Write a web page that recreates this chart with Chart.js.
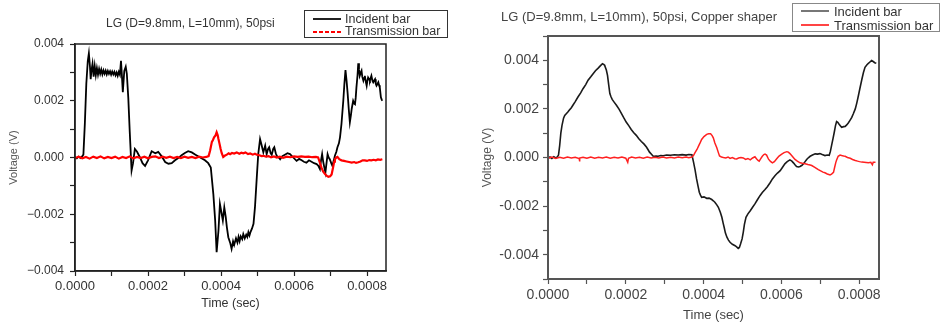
<!DOCTYPE html>
<html>
<head>
<meta charset="utf-8">
<script src="https://cdn.jsdelivr.net/npm/chart.js@4.4.1/dist/chart.umd.min.js"></script>
<style>
  body { margin: 0; background: #fff; width: 941px; height: 326px; overflow: hidden; position: relative;
         font-family: "Liberation Sans", Arial, sans-serif; }
  .panel { position: absolute; top: 0; }
  .ttl { position: absolute; white-space: nowrap; line-height: 1; }
  .lgd { position: absolute; box-sizing: border-box; background: #fff; }
  .lgd .txt { position: absolute; white-space: nowrap; line-height: 1; }
  .lgd .smp { position: absolute; height: 2px; }
</style>
</head>
<body>

<div class="panel" style="left:0;width:470px;height:326px;"><canvas id="leftChart" width="470" height="326"></canvas></div>
<div class="panel" style="left:470px;width:471px;height:326px;"><canvas id="rightChart" width="471" height="326"></canvas></div>

<div class="ttl" style="left:106px;top:17px;font-size:12px;color:#333;">LG (D=9.8mm, L=10mm), 50psi</div>
<div class="lgd" style="left:304px;top:10px;width:144px;height:28px;border:1.5px solid #333;">
  <div class="smp" style="left:8px;top:7px;width:28px;background:#222;"></div>
  <div class="txt" style="left:40px;top:2px;font-size:12.5px;color:#333;">Incident bar</div>
  <div class="smp" style="left:8px;top:20px;width:28px;background:repeating-linear-gradient(90deg,#f00 0 4px,transparent 4px 6px);"></div>
  <div class="txt" style="left:40px;top:14px;font-size:12.5px;color:#333;">Transmission bar</div>
</div>

<div class="ttl" style="left:501px;top:10px;font-size:13px;color:#444;">LG (D=9.8mm, L=10mm), 50psi, Copper shaper</div>
<div class="lgd" style="left:792px;top:3px;width:148px;height:29px;border:1.5px solid #888;">
  <div class="smp" style="left:8px;top:6px;width:28px;background:#777;"></div>
  <div class="txt" style="left:41px;top:1px;font-size:13px;color:#333;">Incident bar</div>
  <div class="smp" style="left:8px;top:20px;width:28px;background:#f44;"></div>
  <div class="txt" style="left:41px;top:15px;font-size:13px;color:#333;">Transmission bar</div>
</div>

<script>
// time in microseconds, voltage in millivolts

const xTicks = [0, 100, 200, 300, 400, 500, 600, 700, 800];
const xTickLabels = ['0.0000', '', '0.0002', '', '0.0004', '', '0.0006', '', '0.0008'];

const leftYTicks = [-4, -3, -2, -1, 0, 1, 2, 3, 4];
const leftYTickLabels = ['\u22120.004', '', '\u22120.002', '', '0.000', '', '0.002', '', '0.004'];

const rightYTicks = [-5, -4, -3, -2, -1, 0, 1, 2, 3, 4, 5];
const rightYTickLabels = ['', '-0.004', '', '-0.002', '', '0.000', '', '0.002', '', '0.004', ''];

// left plot: no pulse shaper
const leftIncident = [
  [0,0.02],[5,-0.03],[10,0.03],[15,-0.02],[20,0.05],[23,0.1],[27,1.2],[31,2.6],[35,3.4],[38,3.67],
  [41,3.2],[43,2.76],[45,3.05],[48,3.3],[51,2.85],[54,3.22],[57,2.9],[60,3.15],[63,2.92],[66,3.12],
  [69,2.95],[72,3.1],[75,2.93],[78,3.07],[81,2.95],[84,3.06],[87,2.93],[90,3.05],[93,2.95],[96,3.04],
  [99,2.92],[102,3.03],[105,2.93],[108,3.02],[111,2.9],[114,3.0],[117,2.88],[120,3.02],[123,2.92],[126,3.41],
  [128,3.0],[131,2.3],[135,3.05],[139,3.2],[142,2.95],[146,2.1],[150,0.9],[155,-0.46],[159,-0.2],[164,0.3],
  [170,0.2],[178,0.0],[185,-0.2],[192,-0.3],[200,-0.1],[210,0.22],[220,0.15],[228,0.2],[237,0.05],[247,-0.16],
  [256,-0.22],[265,-0.2],[274,-0.1],[283,-0.02],[292,0.08],[301,0.16],[310,0.22],[320,0.18],[330,0.1],[343,0.0],
  [356,-0.1],[365,-0.2],[372,-0.35],[379,-1.29],[384,-2.22],[388,-3.34],[393,-2.58],[397,-1.64],[402,-2.0],[405,-2.22],
  [409,-1.76],[413,-2.1],[416,-2.45],[420,-2.81],[425,-3.0],[429,-3.22],[433,-2.95],[436,-3.08],[441,-2.85],[445,-3.0],
  [448,-2.8],[451,-2.95],[454,-2.78],[458,-2.88],[461,-2.7],[465,-2.85],[469,-2.72],[472,-2.8],[475,-2.63],[478,-2.75],
  [481,-2.62],[485,-2.5],[489,-2.34],[493,-1.76],[498,-0.7],[502,0.12],[507,0.65],[511,0.45],[516,0.18],[521,0.42],
  [525,0.12],[529,0.3],[532,0.36],[536,0.15],[539,0.1],[543,0.3],[546,0.36],[550,0.15],[553,0.05],[558,0.0],
  [562,-0.06],[568,0.05],[575,0.1],[582,0.15],[589,0.12],[598,0.0],[607,-0.12],[614,-0.05],[621,-0.1],[627,-0.15],
  [634,-0.18],[641,-0.1],[648,-0.15],[655,-0.2],[662,-0.23],[667,-0.3],[671,-0.41],[674,-0.1],[677,0.12],[680,-0.15],
  [683,-0.35],[686,-0.53],[689,-0.2],[692,0.12],[695,0.0],[698,-0.06],[702,-0.2],[705,-0.29],[709,-0.1],[712,0.06],
  [716,0.2],[719,0.36],[723,0.5],[726,0.71],[730,1.18],[735,2.0],[738,2.6],[741,3.08],[744,2.7],[747,2.24],
  [750,1.7],[753,1.24],[756,1.5],[758,1.71],[762,2.0],[765,1.9],[767,1.88],[769,2.1],[771,2.47],[774,2.9],
  [776,3.32],[778,3.1],[780,2.88],[783,3.0],[785,3.06],[787,2.85],[790,2.71],[792,2.8],[794,2.88],[797,2.65],
  [799,2.53],[801,2.7],[803,2.82],[806,2.75],[808,2.71],[810,2.8],[812,2.88],[815,2.7],[817,2.65],[820,2.72],
  [822,2.76],[824,2.6],[826,2.53],[829,2.6],[831,2.65],[833,2.55],[835,2.47],[838,2.12],[840,2.05],[842,2.0]
];

const leftTransmission = [
  [0,-0.02],[10,0.03],[20,-0.03],[30,0.02],[40,-0.04],[50,0.03],[60,-0.02],[70,0.04],[80,-0.03],[90,0.02],
  [100,-0.02],[110,0.03],[120,-0.04],[130,0.02],[140,-0.02],[150,0.04],[160,-0.03],[170,0.02],[180,-0.02],[190,0.03],
  [200,-0.03],[210,0.02],[220,0.04],[230,-0.02],[240,0.03],[250,-0.01],[260,0.03],[270,-0.02],[280,0.02],[290,-0.02],
  [300,0.03],[310,-0.01],[320,0.02],[330,-0.02],[340,0.03],[350,0.0],[360,0.02],[366,0.05],[370,0.24],[375,0.55],
  [378,0.62],[381,0.71],[385,0.78],[388,0.89],[391,0.78],[393,0.65],[396,0.48],[399,0.3],[402,0.15],[406,0.02],
  [410,0.06],[416,0.1],[421,0.15],[425,0.12],[430,0.16],[436,0.14],[443,0.18],[450,0.13],[456,0.17],[461,0.15],
  [467,0.18],[474,0.12],[480,0.14],[487,0.1],[493,0.13],[498,0.1],[505,0.08],[511,0.05],[516,0.06],[523,0.03],
  [530,0.05],[537,0.01],[545,0.04],[553,0.0],[561,0.03],[570,-0.01],[580,0.03],[590,0.01],[600,0.04],[610,0.02],
  [620,0.04],[630,0.02],[640,0.03],[650,0.01],[660,0.02],[666,0.0],[670,-0.15],[675,-0.35],[680,-0.5],[685,-0.58],
  [690,-0.65],[694,-0.68],[699,-0.66],[703,-0.6],[707,-0.35],[710,-0.15],[712,-0.06],[716,0.0],[719,0.02],[724,-0.06],
  [730,-0.1],[737,-0.12],[744,-0.14],[751,-0.16],[758,-0.18],[765,-0.16],[770,-0.19],[776,-0.17],[782,-0.14],[788,-0.1],
  [794,-0.1],[800,-0.12],[806,-0.09],[812,-0.1],[818,-0.08],[824,-0.1],[830,-0.07],[836,-0.08],[842,-0.06]
];

// right plot: copper pulse shaper
const rightIncident = [
  [0,-0.03],[5,0.02],[10,-0.04],[15,0.03],[20,-0.02],[24,0.02],[27,0.1],[30,0.49],[33,1.0],[36,1.32],
  [40,1.62],[43,1.73],[47,1.8],[51,1.87],[55,1.95],[60,2.05],[64,2.15],[70,2.3],[77,2.49],[84,2.66],
  [90,2.83],[97,3.0],[103,3.18],[110,3.32],[116,3.45],[122,3.57],[129,3.68],[135,3.78],[140,3.86],[144,3.82],
  [146,3.77],[150,3.6],[153,3.38],[156,3.0],[159,2.63],[162,2.5],[165,2.39],[170,2.28],[176,2.15],[183,1.98],
  [189,1.81],[195,1.63],[201,1.46],[208,1.3],[214,1.15],[220,1.03],[227,0.91],[233,0.78],[240,0.66],[247,0.55],
  [253,0.43],[257,0.33],[261,0.22],[266,0.13],[270,0.06],[273,0.05],[278,0.06],[283,0.05],[290,0.08],[296,0.07],
  [305,0.1],[315,0.09],[325,0.11],[335,0.1],[345,0.12],[355,0.1],[362,0.12],[370,0.11],[374,-0.18],[378,-0.5],
  [382,-0.88],[386,-1.2],[389,-1.43],[392,-1.55],[395,-1.64],[401,-1.62],[408,-1.68],[414,-1.67],[421,-1.73],[425,-1.78],
  [429,-1.84],[434,-1.95],[438,-2.05],[443,-2.25],[447,-2.46],[450,-2.68],[453,-2.88],[456,-3.1],[460,-3.28],[464,-3.4],
  [468,-3.49],[474,-3.57],[481,-3.63],[485,-3.68],[489,-3.74],[492,-3.7],[495,-3.56],[499,-3.35],[502,-3.08],[505,-2.75],
  [509,-2.46],[514,-2.32],[520,-2.19],[526,-2.05],[532,-1.91],[538,-1.75],[545,-1.57],[551,-1.44],[558,-1.32],[564,-1.2],
  [571,-1.04],[577,-0.88],[584,-0.74],[590,-0.64],[597,-0.54],[603,-0.4],[609,-0.26],[615,-0.17],[622,-0.1],[627,-0.15],
  [631,-0.22],[635,-0.3],[639,-0.37],[644,-0.39],[648,-0.37],[653,-0.32],[657,-0.26],[661,-0.17],[665,-0.08],[670,0.0],
  [674,0.05],[680,0.1],[687,0.15],[693,0.14],[699,0.16],[705,0.12],[712,0.08],[718,0.1],[723,0.09],[726,0.25],
  [729,0.49],[733,0.8],[736,1.04],[739,1.3],[742,1.48],[745,1.45],[748,1.38],[752,1.3],[755,1.24],[760,1.27],
  [764,1.28],[768,1.34],[772,1.42],[776,1.52],[781,1.65],[785,1.8],[790,2.0],[794,2.25],[798,2.54],[802,2.85],
  [807,3.22],[811,3.5],[815,3.71],[820,3.82],[825,3.89],[829,3.95],[832,3.99],[836,3.95],[840,3.9],[844,3.88]
];

const rightTransmission = [
  [0,-0.03],[10,0.02],[20,-0.04],[30,0.01],[40,-0.03],[50,0.02],[60,-0.02],[70,0.01],[80,-0.04],[81,-0.16],
  [82,-0.02],[90,0.01],[100,-0.03],[110,0.02],[120,-0.03],[130,0.01],[140,-0.02],[150,0.02],[160,-0.03],[170,0.01],
  [180,-0.02],[190,0.02],[200,-0.03],[205,-0.2],[207,-0.03],[215,0.02],[225,-0.02],[235,0.01],[245,-0.03],[255,0.02],
  [265,-0.02],[275,0.01],[285,-0.02],[295,0.02],[305,-0.02],[315,0.01],[325,-0.02],[335,0.02],[345,-0.01],[355,0.02],
  [362,-0.01],[370,0.02],[374,0.08],[378,0.2],[383,0.33],[387,0.47],[391,0.6],[395,0.74],[401,0.86],[408,0.95],
  [413,0.98],[418,0.98],[422,0.9],[425,0.81],[429,0.6],[434,0.4],[438,0.2],[441,0.06],[446,0.02],[451,0.0],
  [457,-0.02],[463,0.02],[468,-0.04],[474,0.0],[480,-0.05],[485,-0.06],[490,-0.02],[496,0.0],[502,-0.02],[508,-0.08],
  [514,-0.04],[520,-0.1],[526,-0.02],[532,0.03],[536,-0.05],[540,-0.12],[543,-0.15],[547,-0.05],[551,0.05],[555,0.12],
  [558,0.14],[562,0.1],[567,-0.07],[572,-0.16],[577,-0.22],[582,-0.17],[588,-0.05],[594,0.06],[601,0.14],[607,0.2],
  [614,0.24],[618,0.22],[622,0.16],[628,0.05],[635,-0.08],[641,-0.15],[648,-0.22],[654,-0.24],[661,-0.26],[668,-0.29],
  [674,-0.31],[678,-0.33],[685,-0.4],[690,-0.45],[695,-0.5],[701,-0.55],[707,-0.6],[712,-0.63],[718,-0.68],[722,-0.7],
  [725,-0.72],[729,-0.68],[734,-0.61],[737,-0.4],[740,-0.2],[742,-0.1],[746,0.05],[751,0.1],[755,0.08],[760,0.06],
  [764,0.05],[770,0.0],[777,-0.03],[783,-0.08],[790,-0.12],[796,-0.15],[801,-0.17],[807,-0.19],[813,-0.2],[818,-0.21],
  [824,-0.22],[830,-0.2],[834,-0.3],[836,-0.2],[842,-0.2]
];

const FONT = '"Liberation Sans", Arial, sans-serif';

// draws the box round the plot area
const framePlugin = {
  id: 'frame',
  afterDatasetsDraw(chart, args, opts) {
    const a = chart.chartArea;
    const ctx = chart.ctx;
    ctx.save();
    ctx.strokeStyle = opts.color;
    ctx.lineWidth = opts.width;
    ctx.strokeRect(a.left, a.top, a.right - a.left, a.bottom - a.top);
    ctx.restore();
  }
};

function toPoints(pairs) {
  return pairs.map(p => ({ x: p[0], y: p[1] }));
}

function makePanel(canvasId, s) {
  return new Chart(document.getElementById(canvasId), {
    type: 'line',
    data: {
      datasets: [
        { data: toPoints(s.incident), borderColor: s.blackColor, borderWidth: s.blackWidth, pointRadius: 0, order: 1 },
        { data: toPoints(s.transmission), borderColor: s.redColor, borderWidth: s.redWidth, pointRadius: 0, order: 0 }
      ]
    },
    options: {
      responsive: false,
      animation: false,
      events: [],
      layout: { padding: s.padding },
      plugins: {
        legend: { display: false },
        tooltip: { enabled: false },
        frame: { color: s.frameColor, width: s.frameWidth }
      },
      scales: {
        x: {
          type: 'linear', min: 0, max: s.xMax,
          afterBuildTicks: (sc) => { sc.ticks = xTicks.map(v => ({ value: v })); },
          afterFit: (sc) => { sc.height = s.xAxisHeight; },
          ticks: { autoSkip: false, maxRotation: 0, padding: s.xTickPad, color: s.textColor,
                   font: { family: FONT, size: s.xTickSize }, callback: (v, i) => xTickLabels[i] },
          grid: { drawOnChartArea: false, drawTicks: true, tickLength: 5, tickColor: s.frameColor, tickWidth: 1.2 },
          border: { display: true, color: s.frameColor, width: s.frameWidth },
          title: { display: true, text: 'Time (sec)', color: s.textColor, padding: { top: 0, bottom: s.xTitlePad },
                   font: { family: FONT, size: s.xTitleSize } }
        },
        y: {
          type: 'linear', min: s.yMin, max: s.yMax,
          afterBuildTicks: (sc) => { sc.ticks = s.yTicks.map(v => ({ value: v })); },
          afterFit: (sc) => { sc.width = s.yAxisWidth; },
          ticks: { autoSkip: false, padding: s.yTickPad, color: s.textColor,
                   font: { family: FONT, size: s.yTickSize }, callback: (v, i) => s.yTickLabels[i] },
          grid: { drawOnChartArea: false, drawTicks: true, tickLength: 5, tickColor: s.frameColor, tickWidth: 1.2 },
          border: { display: true, color: s.frameColor, width: s.frameWidth },
          title: { display: true, text: 'Voltage (V)', color: '#555', padding: { top: s.yTitlePad, bottom: 0 },
                   font: { family: FONT, size: s.yTitleSize } }
        }
      }
    },
    plugins: [framePlugin]
  });
}

makePanel('leftChart', {
  incident: leftIncident, transmission: leftTransmission,
  blackColor: '#000', redColor: '#ff0000', blackWidth: 1.8, redWidth: 2.2,
  padding: { left: 0, top: 44, right: 84, bottom: 0 },
  xMax: 852, yMin: -4, yMax: 4, yTicks: leftYTicks, yTickLabels: leftYTickLabels,
  xAxisHeight: 55, yAxisWidth: 75,
  xTickPad: 3, yTickPad: 6, xTickSize: 13, yTickSize: 12,
  xTitlePad: 15, yTitlePad: 7, xTitleSize: 12.5, yTitleSize: 11,
  textColor: '#333', frameColor: '#222', frameWidth: 1.5
});

makePanel('rightChart', {
  incident: rightIncident, transmission: rightTransmission,
  blackColor: '#1a1a1a', redColor: '#ff2020', blackWidth: 1.6, redWidth: 1.5,
  padding: { left: 0, top: 36, right: 62, bottom: 0 },
  xMax: 851, yMin: -5, yMax: 5, yTicks: rightYTicks, yTickLabels: rightYTickLabels,
  xAxisHeight: 47, yAxisWidth: 78,
  xTickPad: 3, yTickPad: 4, xTickSize: 14, yTickSize: 14,
  xTitlePad: 3, yTitlePad: 10, xTitleSize: 13, yTitleSize: 12,
  textColor: '#444', frameColor: '#555', frameWidth: 2
});
</script>
</body>
</html>
